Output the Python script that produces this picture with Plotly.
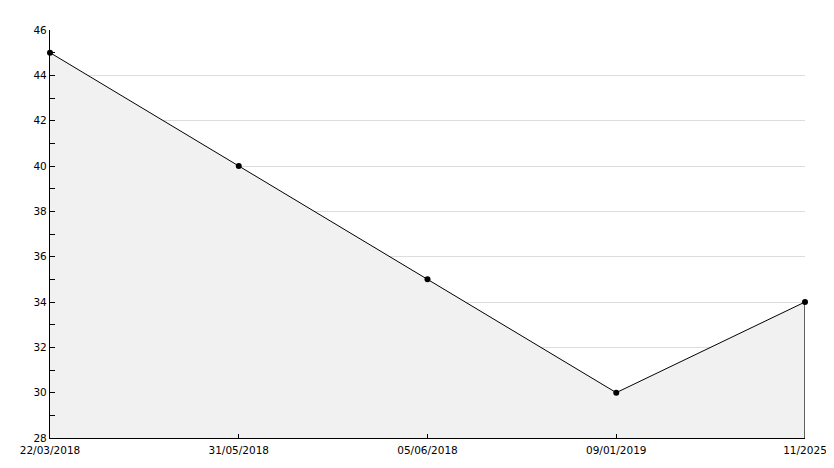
import plotly.graph_objects as go

dates = ["22/03/2018", "31/05/2018", "05/06/2018", "09/01/2019", "11/2025"]
values = [45, 40, 35, 30, 34]

y_min = 28
y_max = 46

fig = go.Figure()
fig.add_trace(go.Scatter(
    x=dates, y=values,
    mode="lines+markers",
    line=dict(color="black", width=1),
    marker=dict(color="black", size=6, symbol="circle"),
    fill="tozeroy",
    fillcolor="#f1f1f1",
    cliponaxis=False,
    showlegend=False,
))

# closing edge of the area at the last point
fig.add_trace(go.Scatter(
    x=[dates[-1], dates[-1]], y=[y_min, values[-1]],
    mode="lines",
    line=dict(color="black", width=1.2),
    cliponaxis=False,
    showlegend=False,
    hoverinfo="skip",
))

# page body keeps its default 8px margin, so the figure is a bit smaller
fig.update_layout(
    width=818, height=452,
    template="simple_white",
    paper_bgcolor="white", plot_bgcolor="white",
    font=dict(family="DejaVu Sans", size=10.5, color="black"),
    margin=dict(l=42, r=21, t=22, b=22, autoexpand=False),
    xaxis=dict(
        type="category", range=[0, len(dates) - 1],
        automargin=False,
        showline=True, linecolor="black", linewidth=1.2,
        ticks="inside", ticklen=4, tickcolor="black",
        ticklabelstandoff=2,
        showgrid=False, zeroline=False,
    ),
    yaxis=dict(
        range=[y_min, y_max], dtick=2,
        automargin=False,
        showline=True, linecolor="black", linewidth=1.2,
        ticks="inside", ticklen=5, tickcolor="black",
        minor=dict(dtick=1, ticks="inside", ticklen=5, tickcolor="black"),
        showgrid=True, gridcolor="#dddddd", gridwidth=1,
        zeroline=False,
    ),
)

fig.write_html("out.html")
